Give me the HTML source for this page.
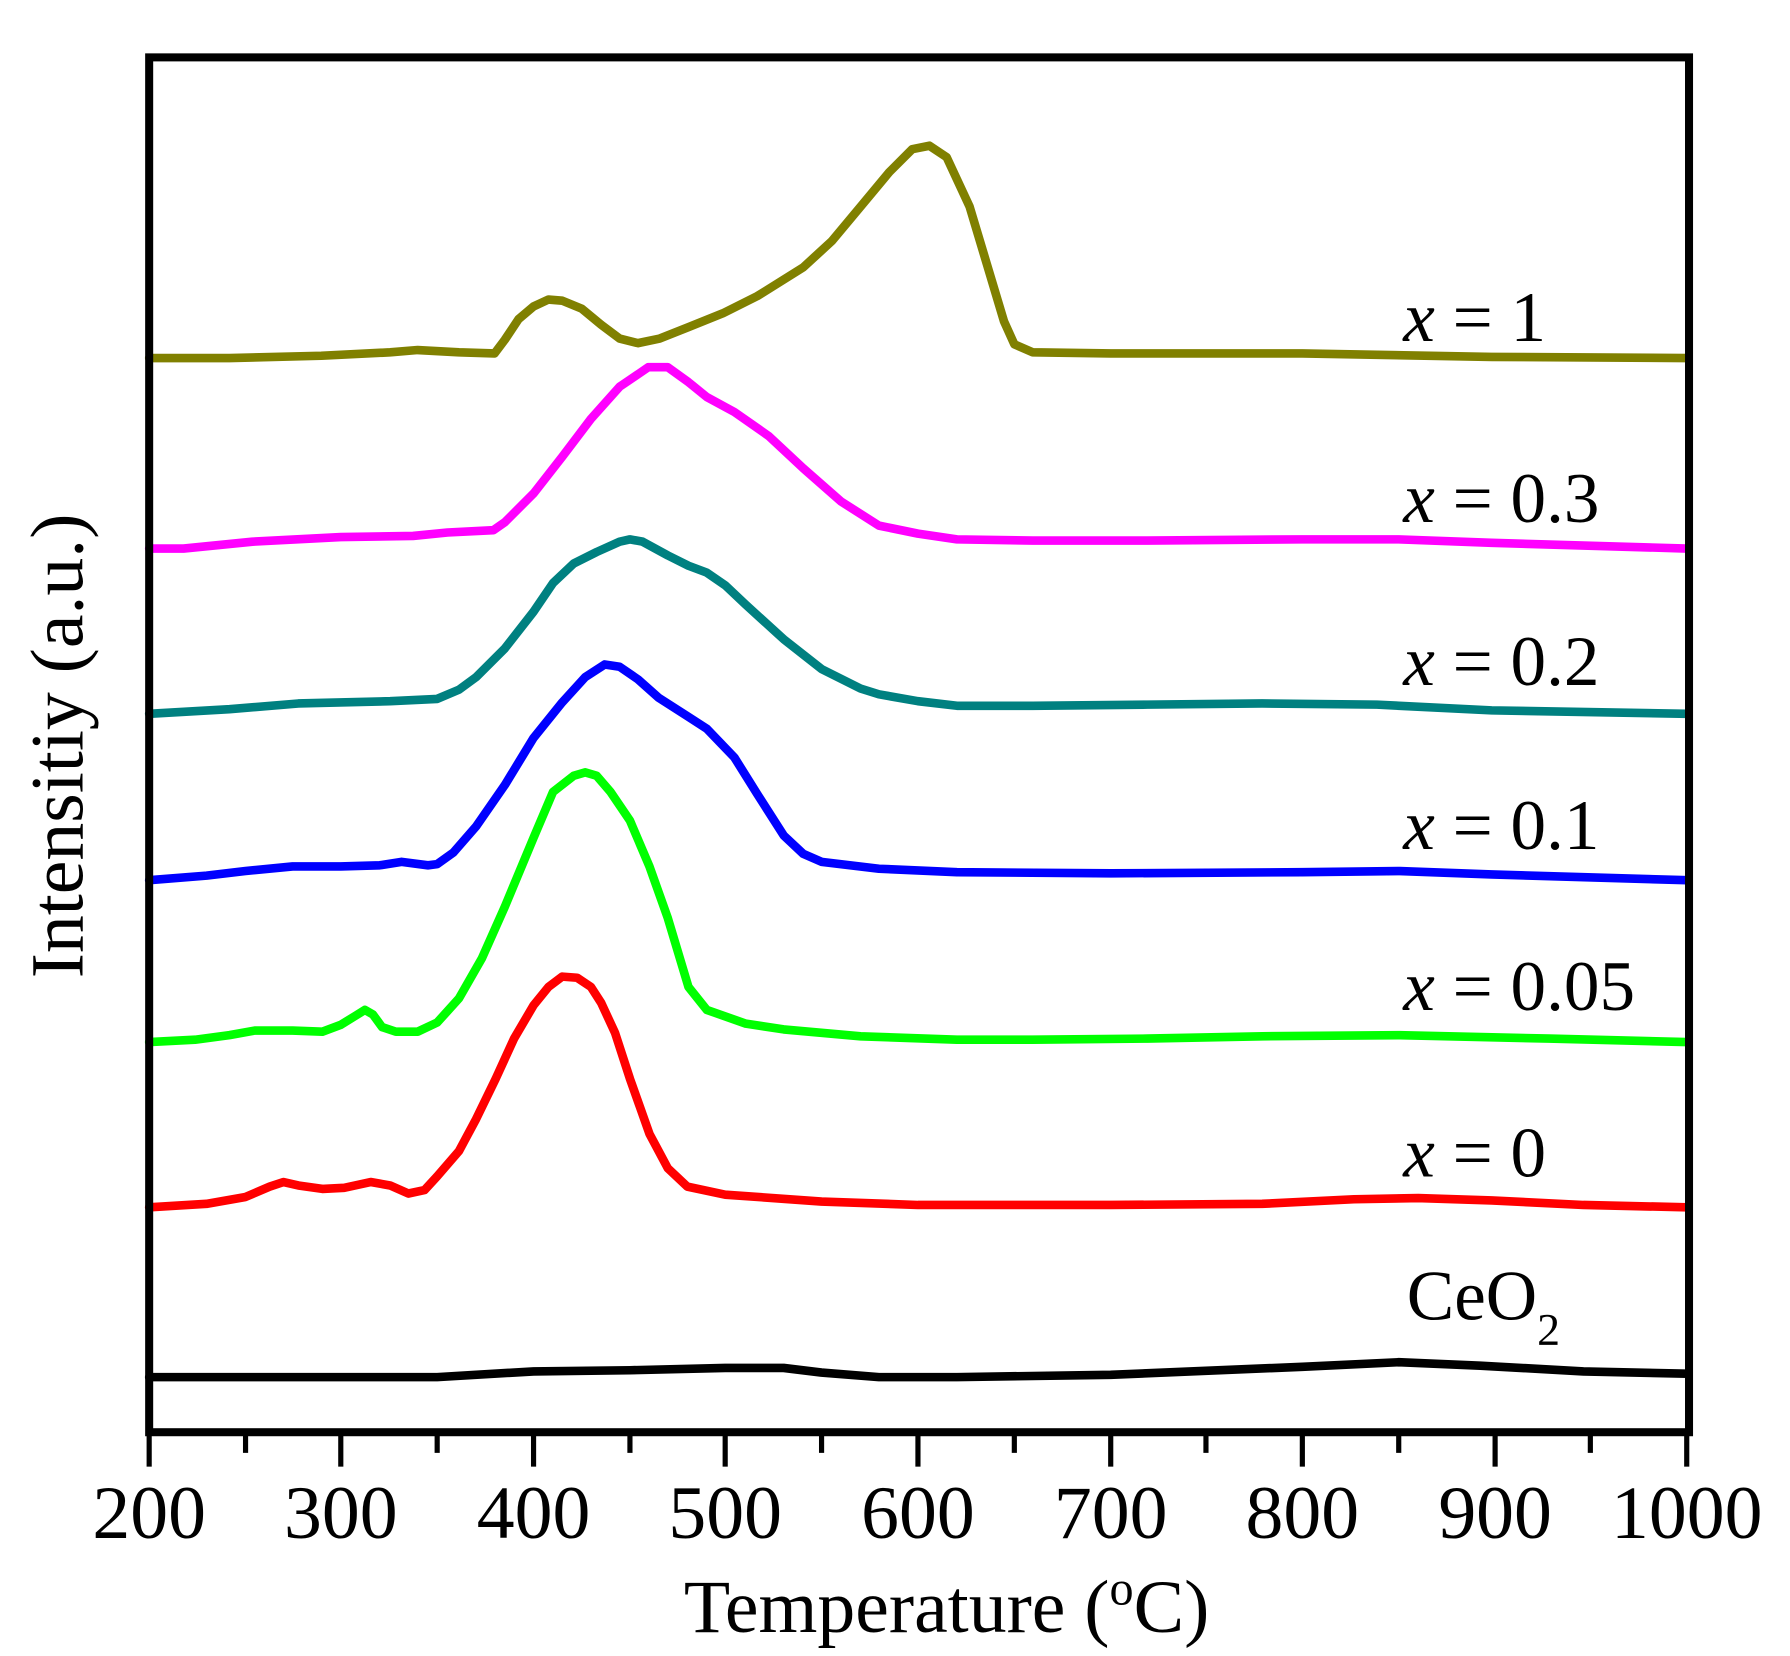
<!DOCTYPE html>
<html><head><style>html,body{margin:0;padding:0;background:#fff}svg{display:block}</style></head>
<body>
<svg width="1790" height="1656" viewBox="0 0 1560 1443" preserveAspectRatio="none" xmlns="http://www.w3.org/2000/svg" font-family="'Liberation Serif',serif">
<g fill="none" stroke-width="7.5" stroke-linejoin="round" stroke-linecap="round">
<polyline stroke="#000" points="130,1200 381,1200 465,1195 549,1194 632,1192 683,1192 716,1196 766,1200 834,1200 968,1198 1135,1191 1219,1187 1290,1190 1380,1195 1470,1197"/>
<polyline stroke="#ff0000" points="130,1052 180,1049 214,1043 235,1034 247,1030 260,1033 281,1036 300,1035 323,1030 340,1033 356,1040 370,1037 381,1025 400,1003 415,975 432,940 448,905 465,876 478,860 490,851 503,852 515,860 524,874 536,900 549,940 566,988 582,1018 599,1034 632,1041 716,1047 800,1050 968,1050 1100,1049 1180,1045 1236,1044 1300,1046 1380,1050 1470,1052"/>
<polyline stroke="#00ff00" points="130,908 170,906 200,902 222,898 255,898 281,899 297,893 310,885 318,880 325,884 333,895 345,899 364,899 381,891 400,870 420,835 440,790 465,730 482,690 500,676 510,673 520,676 532,690 549,715 566,755 582,800 600,860 616,880 650,892 683,897 750,903 834,906 900,906 1000,905 1100,903 1220,902 1350,905 1470,908"/>
<polyline stroke="#0000ff" points="130,767 180,763 214,759 255,755 297,755 331,754 350,751 373,754 381,753 395,743 415,720 440,684 465,643 490,612 510,590 527,579 540,581 556,592 574,608 599,624 616,635 640,660 660,692 683,728 700,744 716,751 766,757 834,760 968,761 1135,760 1220,759 1300,762 1470,767"/>
<polyline stroke="#008080" points="130,622 200,618 260,613 340,611 381,609 400,601 415,590 440,565 465,533 482,508 500,491 520,481 540,472 549,470 560,472 582,484 600,493 616,499 632,510 650,527 683,557 716,583 750,600 766,605 800,611 834,615 900,615 1000,614 1100,613 1200,614 1300,619 1470,622"/>
<polyline stroke="#ff00ff" points="130,478 160,478 220,472 297,468 360,467 390,464 430,462 440,455 465,430 490,398 515,365 540,337 565,320 582,320 600,333 616,346 640,359 670,380 700,408 733,437 766,458 800,465 834,470 900,471 1000,471 1135,470 1219,470 1300,473 1470,478"/>
<polyline stroke="#808000" points="130,312 200,312 280,310 340,307 364,305 400,307 431,308 440,296 452,278 465,267 478,261 490,262 507,269 524,283 540,295 556,299 575,295 600,285 630,273 660,258 700,233 725,210 750,180 775,150 795,130 810,127 825,137 845,180 860,230 875,280 884,300 900,307 968,308 1135,308 1300,311 1470,312"/>
</g>
<rect x="130" y="50" width="1342" height="1198" fill="none" stroke="#000" stroke-width="7"/>
<g stroke="#000" stroke-width="4.5">
<line x1="130" y1="1248" x2="130" y2="1278"/><line x1="214" y1="1248" x2="214" y2="1266"/>
<line x1="297" y1="1248" x2="297" y2="1278"/><line x1="381" y1="1248" x2="381" y2="1266"/>
<line x1="465" y1="1248" x2="465" y2="1278"/><line x1="549" y1="1248" x2="549" y2="1266"/>
<line x1="632" y1="1248" x2="632" y2="1278"/><line x1="716" y1="1248" x2="716" y2="1266"/>
<line x1="800" y1="1248" x2="800" y2="1278"/><line x1="884" y1="1248" x2="884" y2="1266"/>
<line x1="968" y1="1248" x2="968" y2="1278"/><line x1="1051" y1="1248" x2="1051" y2="1266"/>
<line x1="1135" y1="1248" x2="1135" y2="1278"/><line x1="1219" y1="1248" x2="1219" y2="1266"/>
<line x1="1303" y1="1248" x2="1303" y2="1278"/><line x1="1386" y1="1248" x2="1386" y2="1266"/>
<line x1="1470" y1="1248" x2="1470" y2="1278"/>
</g>
<g font-size="66" text-anchor="middle" fill="#000">
<text x="130" y="1340">200</text><text x="297" y="1340">300</text><text x="465" y="1340">400</text>
<text x="632" y="1340">500</text><text x="800" y="1340">600</text><text x="968" y="1340">700</text>
<text x="1135" y="1340">800</text><text x="1303" y="1340">900</text><text x="1470" y="1340">1000</text>
<text x="825" y="1422" font-size="66">Temperature (<tspan dy="-24" font-size="42">o</tspan><tspan dy="24">C)</tspan></text>
<text transform="translate(72,650) rotate(-90)" font-size="66">Intensitiy (a.u.)</text>
</g>
<g font-size="62" fill="#000">
<text x="1223" y="297"><tspan font-style="italic">x</tspan> = 1</text>
<text x="1223" y="455"><tspan font-style="italic">x</tspan> = 0.3</text>
<text x="1223" y="597"><tspan font-style="italic">x</tspan> = 0.2</text>
<text x="1223" y="740"><tspan font-style="italic">x</tspan> = 0.1</text>
<text x="1223" y="880"><tspan font-style="italic">x</tspan> = 0.05</text>
<text x="1223" y="1025"><tspan font-style="italic">x</tspan> = 0</text>
<text x="1226" y="1150">CeO<tspan font-size="40" dy="22">2</tspan></text>
</g>
</svg>
</body></html>
